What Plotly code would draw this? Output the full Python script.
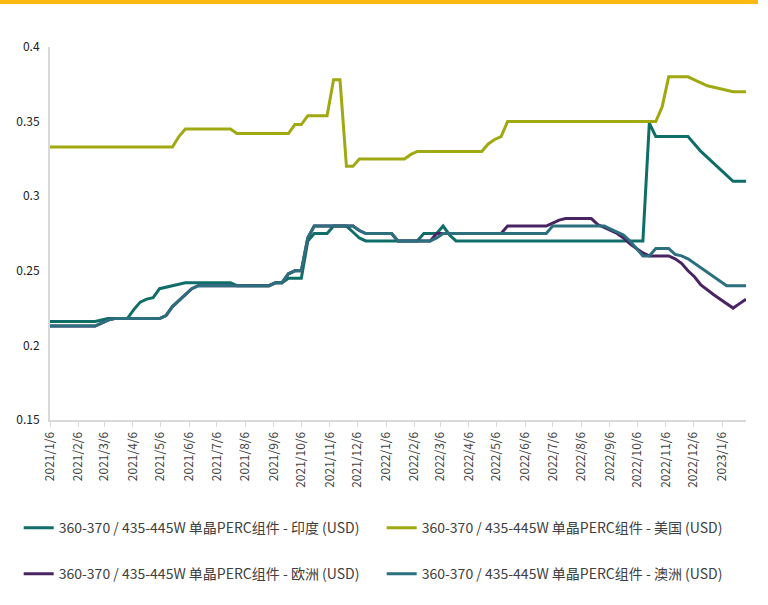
import pandas as pd
import plotly.graph_objects as go

# Weekly price observations (Wednesdays), USD/W
weeks = pd.date_range("2021-01-06", periods=109, freq="7D")

india = [
    0.216, 0.216, 0.216, 0.216, 0.216, 0.216, 0.216, 0.216, 0.217, 0.218,
    0.218, 0.218, 0.218, 0.224, 0.229, 0.231, 0.232, 0.238, 0.239, 0.240,
    0.241, 0.242, 0.242, 0.242, 0.242, 0.242, 0.242, 0.242, 0.242, 0.240,
    0.240, 0.240, 0.240, 0.240, 0.240, 0.242, 0.242, 0.245, 0.245, 0.245,
    0.270, 0.275, 0.275, 0.275, 0.280, 0.280, 0.280, 0.276, 0.272, 0.270,
    0.270, 0.270, 0.270, 0.270, 0.270, 0.270, 0.270, 0.270, 0.275, 0.275,
    0.275, 0.280, 0.274, 0.270, 0.270, 0.270, 0.270, 0.270, 0.270, 0.270,
    0.270, 0.270, 0.270, 0.270, 0.270, 0.270, 0.270, 0.270, 0.270, 0.270,
    0.270, 0.270, 0.270, 0.270, 0.270, 0.270, 0.270, 0.270, 0.270, 0.270,
    0.270, 0.270, 0.270, 0.349, 0.340, 0.340, 0.340, 0.340, 0.340, 0.340,
    0.335, 0.330, 0.326, 0.322, 0.318, 0.314, 0.310, 0.310, 0.310,
]

usa = [
    0.333, 0.333, 0.333, 0.333, 0.333, 0.333, 0.333, 0.333, 0.333, 0.333,
    0.333, 0.333, 0.333, 0.333, 0.333, 0.333, 0.333, 0.333, 0.333, 0.333,
    0.340, 0.345, 0.345, 0.345, 0.345, 0.345, 0.345, 0.345, 0.345, 0.342,
    0.342, 0.342, 0.342, 0.342, 0.342, 0.342, 0.342, 0.342, 0.348, 0.348,
    0.354, 0.354, 0.354, 0.354, 0.378, 0.378, 0.320, 0.320, 0.325, 0.325,
    0.325, 0.325, 0.325, 0.325, 0.325, 0.325, 0.328, 0.330, 0.330, 0.330,
    0.330, 0.330, 0.330, 0.330, 0.330, 0.330, 0.330, 0.330, 0.335, 0.338,
    0.340, 0.350, 0.350, 0.350, 0.350, 0.350, 0.350, 0.350, 0.350, 0.350,
    0.350, 0.350, 0.350, 0.350, 0.350, 0.350, 0.350, 0.350, 0.350, 0.350,
    0.350, 0.350, 0.350, 0.350, 0.350, 0.360, 0.380, 0.380, 0.380, 0.380,
    0.378, 0.376, 0.374, 0.373, 0.372, 0.371, 0.370, 0.370, 0.370,
]

europe = [
    0.213, 0.213, 0.213, 0.213, 0.213, 0.213, 0.213, 0.213, 0.215, 0.217,
    0.218, 0.218, 0.218, 0.218, 0.218, 0.218, 0.218, 0.218, 0.220, 0.226,
    0.230, 0.234, 0.238, 0.240, 0.240, 0.240, 0.240, 0.240, 0.240, 0.240,
    0.240, 0.240, 0.240, 0.240, 0.240, 0.242, 0.242, 0.248, 0.250, 0.250,
    0.272, 0.280, 0.280, 0.280, 0.280, 0.280, 0.280, 0.280, 0.277, 0.275,
    0.275, 0.275, 0.275, 0.275, 0.270, 0.270, 0.270, 0.270, 0.270, 0.270,
    0.275, 0.275, 0.275, 0.275, 0.275, 0.275, 0.275, 0.275, 0.275, 0.275,
    0.275, 0.280, 0.280, 0.280, 0.280, 0.280, 0.280, 0.280, 0.282, 0.284,
    0.285, 0.285, 0.285, 0.285, 0.285, 0.281, 0.279, 0.277, 0.275, 0.272,
    0.268, 0.265, 0.262, 0.260, 0.260, 0.260, 0.260, 0.258, 0.255, 0.250,
    0.246, 0.2405, 0.237, 0.234, 0.231, 0.228, 0.225, 0.228, 0.231,
]

australia = [
    0.213, 0.213, 0.213, 0.213, 0.213, 0.213, 0.213, 0.213, 0.215, 0.217,
    0.218, 0.218, 0.218, 0.218, 0.218, 0.218, 0.218, 0.218, 0.220, 0.226,
    0.230, 0.234, 0.238, 0.240, 0.240, 0.240, 0.240, 0.240, 0.240, 0.240,
    0.240, 0.240, 0.240, 0.240, 0.240, 0.242, 0.242, 0.248, 0.250, 0.250,
    0.272, 0.280, 0.280, 0.280, 0.280, 0.280, 0.280, 0.280, 0.277, 0.275,
    0.275, 0.275, 0.275, 0.275, 0.270, 0.270, 0.270, 0.270, 0.270, 0.270,
    0.272, 0.275, 0.275, 0.275, 0.275, 0.275, 0.275, 0.275, 0.275, 0.275,
    0.275, 0.275, 0.275, 0.275, 0.275, 0.275, 0.275, 0.275, 0.280, 0.280,
    0.280, 0.280, 0.280, 0.280, 0.280, 0.280, 0.280, 0.278, 0.276, 0.274,
    0.270, 0.265, 0.260, 0.260, 0.265, 0.265, 0.265, 0.261, 0.260, 0.258,
    0.255, 0.252, 0.249, 0.246, 0.243, 0.240, 0.240, 0.240, 0.240,
]

series_names = [
    "360-370 / 435-445W 单晶PERC组件 - 印度 (USD)",
    "360-370 / 435-445W 单晶PERC组件 - 美国 (USD)",
    "360-370 / 435-445W 单晶PERC组件 - 欧洲 (USD)",
    "360-370 / 435-445W 单晶PERC组件 - 澳洲 (USD)",
]
series_values = [india, usa, europe, australia]
series_colors = ["#0f6e68", "#a0a911", "#4a2462", "#2c6f7f"]
series_legends = ["legend", "legend", "legend2", "legend2"]

y_ticks = [0.15, 0.2, 0.25, 0.3, 0.35, 0.4]
y_labels = ["0.15", "0.2", "0.25", "0.3", "0.35", "0.4"]

# Month ticks fall on the 6th of each month
month_ticks = pd.date_range("2021-01-01", "2023-01-01", freq="MS") + pd.Timedelta(days=5)
month_labels = [f"{d.year}/{d.month}/{d.day}" for d in month_ticks]

text_font = "Noto Sans CJK SC, Noto Sans, sans-serif"
axis_gray = "#d9d9d9"

fig = go.Figure()
for name, vals, color, lg in zip(series_names, series_values, series_colors, series_legends):
    fig.add_trace(go.Scatter(
        x=weeks, y=vals, name=name, mode="lines",
        line=dict(color=color, width=3),
        legend=lg,
    ))

legend_style = dict(
    orientation="h", x=-0.045, xanchor="left", yanchor="middle",
    entrywidth=318, entrywidthmode="pixels",
    font=dict(family=text_font, size=14, color="#404040"),
    bgcolor="rgba(0,0,0,0)",
)

fig.update_layout(
    width=768, height=605,
    margin=dict(l=50, r=22, t=47, b=185),
    paper_bgcolor="white", plot_bgcolor="white",
    font=dict(family=text_font, size=12, color="#404040"),
    showlegend=True,
    legend=dict(legend_style, y=-0.29),
    legend2=dict(legend_style, y=-0.413),
    shapes=[dict(
        type="rect", xref="paper", yref="paper",
        xsizemode="pixel", ysizemode="pixel", xanchor=0, yanchor=1,
        x0=-50, x1=708, y0=43, y1=48,
        fillcolor="#fdb913", line=dict(width=0), layer="above",
    )],
)

fig.update_xaxes(
    type="date",
    range=[weeks[0], weeks[-1]],
    tickvals=month_ticks, ticktext=month_labels, tickangle=-90,
    showgrid=False, zeroline=False,
    showline=True, linecolor=axis_gray, linewidth=2,
    ticks="outside", ticklen=5, tickcolor=axis_gray, tickwidth=1,
    tickfont=dict(family=text_font, size=12, color="#404040"),
)
fig.update_yaxes(
    range=[0.15, 0.4],
    tickvals=y_ticks, ticktext=y_labels,
    showgrid=False, zeroline=False,
    showline=True, linecolor=axis_gray, linewidth=2,
    ticks="", ticklabelstandoff=6,
    tickfont=dict(family=text_font, size=12, color="#202020"),
)

fig.write_html("out.html")
